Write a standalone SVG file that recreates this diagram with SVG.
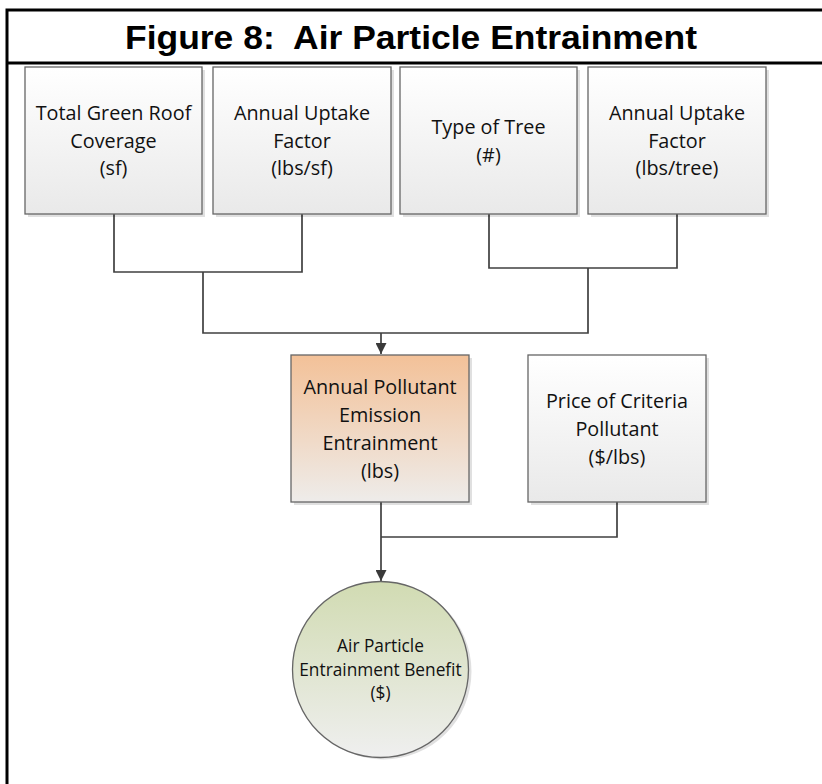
<svg xmlns="http://www.w3.org/2000/svg" width="822" height="784" viewBox="0 0 822 784">
  <style>
    .frame { stroke: #000; stroke-width: 3; fill: none; }
    .title { font-family: "Liberation Sans", Arial, sans-serif; font-weight: bold; font-size: 33px; fill: #000; }
    .box { stroke: #666; stroke-width: 1.3; }
    .lbl { font-family: "Open Sans", "Noto Sans", sans-serif; font-size: 19.8px; fill: #111; text-anchor: middle; }
    .lbl-sm { font-family: "Open Sans", "Noto Sans", sans-serif; font-size: 17.3px; fill: #111; text-anchor: middle; }
    .wire { stroke: #404040; stroke-width: 1.7; fill: none; }
    .shadow { fill: #000; opacity: 0.12; }
  </style>
  <defs>
    <linearGradient id="gGrey" x1="0" y1="0" x2="0" y2="1">
      <stop offset="0" stop-color="#ffffff"/>
      <stop offset="1" stop-color="#e9e9e9"/>
    </linearGradient>
    <linearGradient id="gPeach" x1="0" y1="0" x2="0" y2="1">
      <stop offset="0" stop-color="#f3c198"/>
      <stop offset="1" stop-color="#eeecea"/>
    </linearGradient>
    <linearGradient id="gGreen" x1="0" y1="0" x2="0" y2="1">
      <stop offset="0" stop-color="#d1dbb2"/>
      <stop offset="1" stop-color="#efefef"/>
    </linearGradient>
    <marker id="arrow" viewBox="0 0 10 10" refX="10" refY="5" markerWidth="11" markerHeight="11" markerUnits="userSpaceOnUse" orient="auto">
      <path d="M0,0 L10,5 L0,10 Z" fill="#3a3a3a"/>
    </marker>
  </defs>

  <rect width="822" height="784" fill="#fff"/>

  <!-- frame and title bar -->
  <g id="frame">
    <path class="frame" d="M7,784 V10 H822"/>
    <line class="frame" x1="7" y1="63" x2="822" y2="63"/>
    <text class="title" x="411" y="49" text-anchor="middle" xml:space="preserve" textLength="572" lengthAdjust="spacingAndGlyphs">Figure 8:  Air Particle Entrainment</text>
  </g>

  <!-- connectors -->
  <g id="connectors">
    <path class="wire" d="M114,214 V272 H302 V214"/>
    <path class="wire" d="M489,214 V268 H677 V214"/>
    <path class="wire" d="M203,272 V333 H588 V268"/>
    <path class="wire" d="M381,333 V354" marker-end="url(#arrow)"/>
    <path class="wire" d="M617,502 V537 H381"/>
    <path class="wire" d="M381,502 V581" marker-end="url(#arrow)"/>
  </g>

  <g id="green-roof-coverage">
    <rect class="shadow" x="28" y="70" width="177" height="147"/>
    <rect class="box" x="25" y="67" width="177" height="147" fill="url(#gGrey)"/>
    <text class="lbl" x="113.5" y="120">Total Green Roof</text>
    <text class="lbl" x="113.5" y="147.5">Coverage</text>
    <text class="lbl" x="113.5" y="175">(sf)</text>
  </g>

  <g id="uptake-factor-sf">
    <rect class="shadow" x="216" y="70" width="178" height="147"/>
    <rect class="box" x="213" y="67" width="178" height="147" fill="url(#gGrey)"/>
    <text class="lbl" x="302" y="120">Annual Uptake</text>
    <text class="lbl" x="302" y="147.5">Factor</text>
    <text class="lbl" x="302" y="175">(lbs/sf)</text>
  </g>

  <g id="type-of-tree">
    <rect class="shadow" x="403" y="70" width="177" height="147"/>
    <rect class="box" x="400" y="67" width="177" height="147" fill="url(#gGrey)"/>
    <text class="lbl" x="488.5" y="134">Type of Tree</text>
    <text class="lbl" x="488.5" y="161.5">(#)</text>
  </g>

  <g id="uptake-factor-tree">
    <rect class="shadow" x="591" y="70" width="178" height="147"/>
    <rect class="box" x="588" y="67" width="178" height="147" fill="url(#gGrey)"/>
    <text class="lbl" x="677" y="120">Annual Uptake</text>
    <text class="lbl" x="677" y="147.5">Factor</text>
    <text class="lbl" x="677" y="175">(lbs/tree)</text>
  </g>

  <g id="pollutant-entrainment">
    <rect class="shadow" x="294" y="358" width="178" height="147"/>
    <rect class="box" x="291" y="355" width="178" height="147" fill="url(#gPeach)"/>
    <text class="lbl" x="380" y="394">Annual Pollutant</text>
    <text class="lbl" x="380" y="422">Emission</text>
    <text class="lbl" x="380" y="450">Entrainment</text>
    <text class="lbl" x="380" y="477.5">(lbs)</text>
  </g>

  <g id="criteria-price">
    <rect class="shadow" x="531" y="358" width="178" height="147"/>
    <rect class="box" x="528" y="355" width="178" height="147" fill="url(#gGrey)"/>
    <text class="lbl" x="617" y="408">Price of Criteria</text>
    <text class="lbl" x="617" y="436">Pollutant</text>
    <text class="lbl" x="617" y="463.5">($/lbs)</text>
  </g>

  <g id="entrainment-benefit">
    <circle class="shadow" cx="383.5" cy="671.5" r="88"/>
    <circle class="box" cx="380.5" cy="669.5" r="88" fill="url(#gGreen)"/>
    <text class="lbl-sm" x="380.5" y="652">Air Particle</text>
    <text class="lbl-sm" x="380.5" y="675.5">Entrainment Benefit</text>
    <text class="lbl-sm" x="380.5" y="698.5">($)</text>
  </g>
</svg>
